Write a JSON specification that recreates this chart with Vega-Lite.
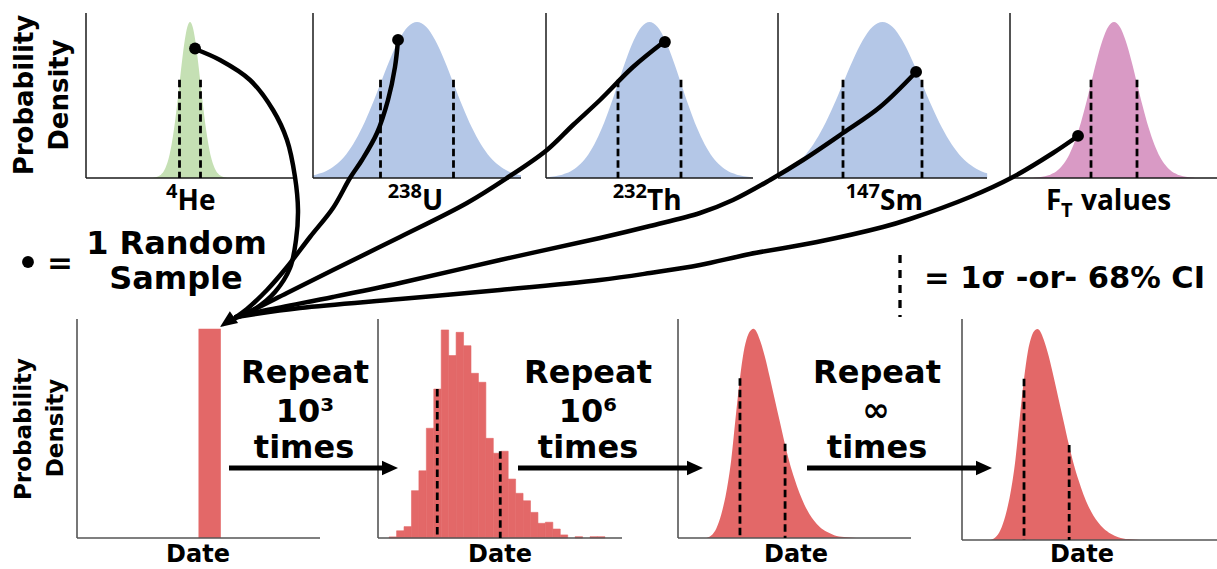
{
  "$schema": "https://vega.github.io/schema/vega-lite/v6.json",
  "width": 1217,
  "height": 569,
  "padding": 0,
  "autosize": "none",
  "background": "white",
  "config": {"view": {"stroke": null}, "axis": {"disable": true}},
  "datasets": {
    "normal": [
      {"v": -3.5, "d": 0.0022}, {"v": -3.25, "d": 0.0051}, {"v": -3, "d": 0.0111}, {"v": -2.85, "d": 0.0172},
      {"v": -2.75, "d": 0.0228}, {"v": -2.65, "d": 0.0299}, {"v": -2.5, "d": 0.0439}, {"v": -2.25, "d": 0.0796},
      {"v": -2, "d": 0.1353}, {"v": -1.75, "d": 0.2165}, {"v": -1.5, "d": 0.3247}, {"v": -1.25, "d": 0.4578},
      {"v": -1, "d": 0.6065}, {"v": -0.75, "d": 0.7548}, {"v": -0.5, "d": 0.8825}, {"v": -0.25, "d": 0.9692},
      {"v": 0, "d": 1},
      {"v": 0.25, "d": 0.9692}, {"v": 0.5, "d": 0.8825}, {"v": 0.75, "d": 0.7548}, {"v": 1, "d": 0.6065},
      {"v": 1.25, "d": 0.4578}, {"v": 1.5, "d": 0.3247}, {"v": 1.75, "d": 0.2165}, {"v": 2, "d": 0.1353},
      {"v": 2.25, "d": 0.0796}, {"v": 2.5, "d": 0.0439}, {"v": 2.65, "d": 0.0299}, {"v": 2.75, "d": 0.0228},
      {"v": 2.85, "d": 0.0172}, {"v": 3, "d": 0.0111}, {"v": 3.25, "d": 0.0051}, {"v": 3.5, "d": 0.0022}
    ],
    "sigma": [{"v": -1, "top": 0.63}, {"v": 1, "top": 0.63}],
    "dates": [
      {"date": 11.5, "density": 0}, {"date": 13.5, "density": 0.012}, {"date": 15.5, "density": 0.045},
      {"date": 17.5, "density": 0.11}, {"date": 19.5, "density": 0.21}, {"date": 21.5, "density": 0.36},
      {"date": 23.25, "density": 0.55}, {"date": 25, "density": 0.73}, {"date": 26.5, "density": 0.85},
      {"date": 28, "density": 0.92}, {"date": 29.5, "density": 0.95}, {"date": 30.5, "density": 0.955},
      {"date": 31.5, "density": 0.945}, {"date": 33, "density": 0.905}, {"date": 35, "density": 0.83},
      {"date": 37, "density": 0.735}, {"date": 39, "density": 0.635}, {"date": 41, "density": 0.535},
      {"date": 43, "density": 0.435}, {"date": 45, "density": 0.345}, {"date": 47, "density": 0.27},
      {"date": 49, "density": 0.205}, {"date": 51, "density": 0.152}, {"date": 53, "density": 0.11},
      {"date": 55, "density": 0.078}, {"date": 57, "density": 0.053}, {"date": 60, "density": 0.028},
      {"date": 63, "density": 0.013}, {"date": 67, "density": 0.004}, {"date": 72, "density": 0}
    ],
    "dateSigma": [{"date": 25, "top": 0.73}, {"date": 43.2, "top": 0.43}],
    "hist": [
      {"start": 4.5, "end": 7.5, "density": 0.005}, {"start": 7.5, "end": 10.5, "density": 0.033},
      {"start": 10.5, "end": 13.5, "density": 0.052}, {"start": 13.5, "end": 16.5, "density": 0.216},
      {"start": 16.5, "end": 19.5, "density": 0.307}, {"start": 19.5, "end": 22.5, "density": 0.501},
      {"start": 22.5, "end": 25.5, "density": 0.68}, {"start": 25.5, "end": 28.5, "density": 0.95},
      {"start": 28.5, "end": 31.5, "density": 0.833}, {"start": 31.5, "end": 34.5, "density": 0.939},
      {"start": 34.5, "end": 37.5, "density": 0.878}, {"start": 37.5, "end": 40.5, "density": 0.752},
      {"start": 40.5, "end": 43.5, "density": 0.711}, {"start": 43.5, "end": 46.5, "density": 0.455},
      {"start": 46.5, "end": 49.5, "density": 0.387}, {"start": 49.5, "end": 52.5, "density": 0.396},
      {"start": 52.5, "end": 55.5, "density": 0.269}, {"start": 55.5, "end": 58.5, "density": 0.204},
      {"start": 58.5, "end": 61.5, "density": 0.17}, {"start": 61.5, "end": 64.5, "density": 0.117},
      {"start": 64.5, "end": 67.5, "density": 0.067}, {"start": 67.5, "end": 70.5, "density": 0.072},
      {"start": 70.5, "end": 73.5, "density": 0.041}, {"start": 73.5, "end": 76.5, "density": 0.014},
      {"start": 79.5, "end": 82.5, "density": 0.006}, {"start": 85.5, "end": 88.5, "density": 0.006},
      {"start": 88.5, "end": 91.5, "density": 0.006}
    ],
    "arrows": [
      {"from": "He", "i": 0, "x": 195, "y": 49}, {"from": "He", "i": 1, "x": 220, "y": 60}, {"from": "He", "i": 2, "x": 250, "y": 80},
      {"from": "He", "i": 3, "x": 273, "y": 110}, {"from": "He", "i": 4, "x": 287, "y": 140}, {"from": "He", "i": 5, "x": 295, "y": 177},
      {"from": "He", "i": 6, "x": 298, "y": 210}, {"from": "He", "i": 7, "x": 296, "y": 240}, {"from": "He", "i": 8, "x": 290, "y": 268},
      {"from": "He", "i": 9, "x": 275, "y": 292}, {"from": "He", "i": 10, "x": 255, "y": 309}, {"from": "He", "i": 11, "x": 236, "y": 318},
      {"from": "U", "i": 0, "x": 398, "y": 40}, {"from": "U", "i": 1, "x": 395, "y": 67}, {"from": "U", "i": 2, "x": 388, "y": 100},
      {"from": "U", "i": 3, "x": 377, "y": 133}, {"from": "U", "i": 4, "x": 362, "y": 160}, {"from": "U", "i": 5, "x": 350, "y": 178},
      {"from": "U", "i": 6, "x": 333, "y": 208}, {"from": "U", "i": 7, "x": 310, "y": 237}, {"from": "U", "i": 8, "x": 287, "y": 267},
      {"from": "U", "i": 9, "x": 267, "y": 290}, {"from": "U", "i": 10, "x": 247, "y": 309}, {"from": "U", "i": 11, "x": 236, "y": 317},
      {"from": "Th", "i": 0, "x": 665, "y": 41}, {"from": "Th", "i": 1, "x": 633, "y": 67}, {"from": "Th", "i": 2, "x": 600, "y": 100},
      {"from": "Th", "i": 3, "x": 573, "y": 125}, {"from": "Th", "i": 4, "x": 547, "y": 150}, {"from": "Th", "i": 5, "x": 507, "y": 178},
      {"from": "Th", "i": 6, "x": 467, "y": 203}, {"from": "Th", "i": 7, "x": 400, "y": 237}, {"from": "Th", "i": 8, "x": 333, "y": 270},
      {"from": "Th", "i": 9, "x": 287, "y": 293}, {"from": "Th", "i": 10, "x": 253, "y": 310}, {"from": "Th", "i": 11, "x": 236, "y": 317},
      {"from": "Sm", "i": 0, "x": 916, "y": 72}, {"from": "Sm", "i": 1, "x": 880, "y": 107}, {"from": "Sm", "i": 2, "x": 843, "y": 133},
      {"from": "Sm", "i": 3, "x": 803, "y": 160}, {"from": "Sm", "i": 4, "x": 770, "y": 180}, {"from": "Sm", "i": 5, "x": 733, "y": 200},
      {"from": "Sm", "i": 6, "x": 700, "y": 213}, {"from": "Sm", "i": 7, "x": 650, "y": 226}, {"from": "Sm", "i": 8, "x": 600, "y": 238},
      {"from": "Sm", "i": 9, "x": 500, "y": 260}, {"from": "Sm", "i": 10, "x": 400, "y": 283}, {"from": "Sm", "i": 11, "x": 333, "y": 297},
      {"from": "Sm", "i": 12, "x": 267, "y": 310}, {"from": "Sm", "i": 13, "x": 236, "y": 317},
      {"from": "FT", "i": 0, "x": 1078, "y": 136}, {"from": "FT", "i": 1, "x": 1053, "y": 153}, {"from": "FT", "i": 2, "x": 1013, "y": 177},
      {"from": "FT", "i": 3, "x": 970, "y": 197}, {"from": "FT", "i": 4, "x": 910, "y": 219}, {"from": "FT", "i": 5, "x": 883, "y": 227},
      {"from": "FT", "i": 6, "x": 817, "y": 242}, {"from": "FT", "i": 7, "x": 750, "y": 254}, {"from": "FT", "i": 8, "x": 700, "y": 265},
      {"from": "FT", "i": 9, "x": 650, "y": 273}, {"from": "FT", "i": 10, "x": 600, "y": 280}, {"from": "FT", "i": 11, "x": 500, "y": 290},
      {"from": "FT", "i": 12, "x": 400, "y": 299}, {"from": "FT", "i": 13, "x": 300, "y": 308}, {"from": "FT", "i": 14, "x": 236, "y": 317}
    ],
    "steps": [
      {"x": 229, "x2": 385, "y": 468}, {"x": 518, "x2": 690, "y": 468}, {"x": 807, "x2": 980, "y": 468}
    ],
    "stepHeads": [{"x": 390, "y": 468}, {"x": 695, "y": 468}, {"x": 984, "y": 468}],
    "notes": [
      {"kind": "note", "text": "1 Random", "x": 176.5, "y": 254},
      {"kind": "note", "text": "Sample", "x": 176, "y": 289},
      {"kind": "note", "text": "Repeat", "x": 305, "y": 383},
      {"kind": "note", "text": "10³", "x": 305, "y": 421.5},
      {"kind": "note", "text": "times", "x": 304, "y": 458},
      {"kind": "note", "text": "Repeat", "x": 588, "y": 383},
      {"kind": "note", "text": "10⁶", "x": 588, "y": 421.5},
      {"kind": "note", "text": "times", "x": 588, "y": 458},
      {"kind": "note", "text": "Repeat", "x": 877, "y": 383},
      {"kind": "inf", "text": "∞", "x": 876, "y": 421},
      {"kind": "note", "text": "times", "x": 877, "y": 458},
      {"kind": "eq", "text": "=", "x": 47, "y": 273},
      {"kind": "ci", "text": "= 1σ -or- 68% CI", "x": 924, "y": 288},
      {"kind": "ylabTop", "text": "Probability", "x": 33, "y": 95},
      {"kind": "ylabTop", "text": "Density", "x": 68, "y": 95},
      {"kind": "ylabBottom", "text": "Probability", "x": 30.5, "y": 429},
      {"kind": "ylabBottom", "text": "Density", "x": 63, "y": 428},
      {"kind": "date", "text": "Date", "x": 198, "y": 562},
      {"kind": "date", "text": "Date", "x": 500, "y": 562},
      {"kind": "date", "text": "Date", "x": 796, "y": 562},
      {"kind": "date", "text": "Date", "x": 1082, "y": 562},
      {"kind": "iso", "text": "He", "x": 177.5, "y": 210},
      {"kind": "iso", "text": "U", "x": 422, "y": 210},
      {"kind": "iso", "text": "Th", "x": 647, "y": 210},
      {"kind": "iso", "text": "Sm", "x": 880, "y": 209.5},
      {"kind": "iso", "text": "F", "x": 1046, "y": 210},
      {"kind": "iso", "text": "values", "x": 1081, "y": 210},
      {"kind": "isoSup", "text": "4", "x": 177.5, "y": 198},
      {"kind": "isoSup", "text": "238", "x": 422, "y": 198},
      {"kind": "isoSup", "text": "232", "x": 647, "y": 198},
      {"kind": "isoSup", "text": "147", "x": 880, "y": 198},
      {"kind": "isoSub", "text": "T", "x": 1061, "y": 217}
    ]
  },
  "layer": [
    {
      "layer": [
        {"data": {"name": "normal"},
         "mark": {"type": "area", "color": "#c5e0b4", "interpolate": "monotone"},
         "encoding": {
           "x": {"field": "v", "type": "quantitative", "axis": null, "scale": {"domain": [-9.905, 9.905], "range": [86, 294], "nice": false, "zero": false}},
           "y": {"field": "d", "type": "quantitative", "axis": null, "scale": {"domain": [0, 1], "range": [178, 22], "nice": false, "zero": true}}}},
        {"data": {"values": [{"v": -9.905, "v2": 9.905, "d": 0, "d2": 0}, {"v": -9.905, "v2": -9.905, "d": 0, "d2": 1.058}]},
         "mark": {"type": "rule", "color": "#1a1a1a", "strokeWidth": 1.5},
         "encoding": {
           "x": {"field": "v", "type": "quantitative", "axis": null, "scale": {"domain": [-9.905, 9.905], "range": [86, 294], "nice": false, "zero": false}},
           "x2": {"field": "v2"},
           "y": {"field": "d", "type": "quantitative", "axis": null, "scale": {"domain": [0, 1], "range": [178, 22], "nice": false, "zero": true}},
           "y2": {"field": "d2"}}},
        {"data": {"name": "sigma"},
         "mark": {"type": "rule", "color": "black", "strokeWidth": 2.8, "strokeDash": [7.5, 4]},
         "encoding": {
           "x": {"field": "v", "type": "quantitative", "axis": null, "scale": {"domain": [-9.905, 9.905], "range": [86, 294], "nice": false, "zero": false}},
           "y": {"field": "top", "type": "quantitative", "axis": null, "scale": {"domain": [0, 1], "range": [178, 22], "nice": false, "zero": true}},
           "y2": {"datum": 0}}},
        {"data": {"values": [{"v": 0.48, "d": 0.83}]},
         "mark": {"type": "point", "filled": true, "color": "black", "opacity": 1, "size": 140},
         "encoding": {
           "x": {"field": "v", "type": "quantitative", "axis": null, "scale": {"domain": [-9.905, 9.905], "range": [86, 294], "nice": false, "zero": false}},
           "y": {"field": "d", "type": "quantitative", "axis": null, "scale": {"domain": [0, 1], "range": [178, 22], "nice": false, "zero": true}}}}
      ]
    },
    {
      "layer": [
        {"data": {"name": "normal"},
         "transform": [{"filter": "abs(datum.v) <= 2.86"}],
         "mark": {"type": "area", "color": "#b4c7e7", "interpolate": "monotone"},
         "encoding": {
           "x": {"field": "v", "type": "quantitative", "axis": null, "scale": {"domain": [-2.85, 2.85], "range": [313, 521], "nice": false, "zero": false}},
           "y": {"field": "d", "type": "quantitative", "axis": null, "scale": {"domain": [0, 1], "range": [178, 22], "nice": false, "zero": true}}}},
        {"data": {"values": [{"v": -2.85, "v2": 2.85, "d": 0, "d2": 0}, {"v": -2.85, "v2": -2.85, "d": 0, "d2": 1.058}]},
         "mark": {"type": "rule", "color": "#1a1a1a", "strokeWidth": 1.5},
         "encoding": {
           "x": {"field": "v", "type": "quantitative", "axis": null, "scale": {"domain": [-2.85, 2.85], "range": [313, 521], "nice": false, "zero": false}},
           "x2": {"field": "v2"},
           "y": {"field": "d", "type": "quantitative", "axis": null, "scale": {"domain": [0, 1], "range": [178, 22], "nice": false, "zero": true}},
           "y2": {"field": "d2"}}},
        {"data": {"name": "sigma"},
         "mark": {"type": "rule", "color": "black", "strokeWidth": 2.8, "strokeDash": [7.5, 4]},
         "encoding": {
           "x": {"field": "v", "type": "quantitative", "axis": null, "scale": {"domain": [-2.85, 2.85], "range": [313, 521], "nice": false, "zero": false}},
           "y": {"field": "top", "type": "quantitative", "axis": null, "scale": {"domain": [0, 1], "range": [178, 22], "nice": false, "zero": true}},
           "y2": {"datum": 0}}},
        {"data": {"values": [{"v": -0.52, "d": 0.885}]},
         "mark": {"type": "point", "filled": true, "color": "black", "opacity": 1, "size": 140},
         "encoding": {
           "x": {"field": "v", "type": "quantitative", "axis": null, "scale": {"domain": [-2.85, 2.85], "range": [313, 521], "nice": false, "zero": false}},
           "y": {"field": "d", "type": "quantitative", "axis": null, "scale": {"domain": [0, 1], "range": [178, 22], "nice": false, "zero": true}}}}
      ]
    },
    {
      "layer": [
        {"data": {"name": "normal"},
         "transform": [{"filter": "abs(datum.v) <= 3.3"}],
         "mark": {"type": "area", "color": "#b4c7e7", "interpolate": "monotone"},
         "encoding": {
           "x": {"field": "v", "type": "quantitative", "axis": null, "scale": {"domain": [-3.286, 3.286], "range": [546, 753], "nice": false, "zero": false}},
           "y": {"field": "d", "type": "quantitative", "axis": null, "scale": {"domain": [0, 1], "range": [178, 22], "nice": false, "zero": true}}}},
        {"data": {"values": [{"v": -3.286, "v2": 3.286, "d": 0, "d2": 0}, {"v": -3.286, "v2": -3.286, "d": 0, "d2": 1.058}]},
         "mark": {"type": "rule", "color": "#1a1a1a", "strokeWidth": 1.5},
         "encoding": {
           "x": {"field": "v", "type": "quantitative", "axis": null, "scale": {"domain": [-3.286, 3.286], "range": [546, 753], "nice": false, "zero": false}},
           "x2": {"field": "v2"},
           "y": {"field": "d", "type": "quantitative", "axis": null, "scale": {"domain": [0, 1], "range": [178, 22], "nice": false, "zero": true}},
           "y2": {"field": "d2"}}},
        {"data": {"name": "sigma"},
         "mark": {"type": "rule", "color": "black", "strokeWidth": 2.8, "strokeDash": [7.5, 4]},
         "encoding": {
           "x": {"field": "v", "type": "quantitative", "axis": null, "scale": {"domain": [-3.286, 3.286], "range": [546, 753], "nice": false, "zero": false}},
           "y": {"field": "top", "type": "quantitative", "axis": null, "scale": {"domain": [0, 1], "range": [178, 22], "nice": false, "zero": true}},
           "y2": {"datum": 0}}},
        {"data": {"values": [{"v": 0.49, "d": 0.872}]},
         "mark": {"type": "point", "filled": true, "color": "black", "opacity": 1, "size": 140},
         "encoding": {
           "x": {"field": "v", "type": "quantitative", "axis": null, "scale": {"domain": [-3.286, 3.286], "range": [546, 753], "nice": false, "zero": false}},
           "y": {"field": "d", "type": "quantitative", "axis": null, "scale": {"domain": [0, 1], "range": [178, 22], "nice": false, "zero": true}}}}
      ]
    },
    {
      "layer": [
        {"data": {"name": "normal"},
         "transform": [{"filter": "abs(datum.v) <= 2.66"}],
         "mark": {"type": "area", "color": "#b4c7e7", "interpolate": "monotone"},
         "encoding": {
           "x": {"field": "v", "type": "quantitative", "axis": null, "scale": {"domain": [-2.646, 2.646], "range": [778, 987], "nice": false, "zero": false}},
           "y": {"field": "d", "type": "quantitative", "axis": null, "scale": {"domain": [0, 1], "range": [178, 22], "nice": false, "zero": true}}}},
        {"data": {"values": [{"v": -2.646, "v2": 2.646, "d": 0, "d2": 0}, {"v": -2.646, "v2": -2.646, "d": 0, "d2": 1.058}]},
         "mark": {"type": "rule", "color": "#1a1a1a", "strokeWidth": 1.5},
         "encoding": {
           "x": {"field": "v", "type": "quantitative", "axis": null, "scale": {"domain": [-2.646, 2.646], "range": [778, 987], "nice": false, "zero": false}},
           "x2": {"field": "v2"},
           "y": {"field": "d", "type": "quantitative", "axis": null, "scale": {"domain": [0, 1], "range": [178, 22], "nice": false, "zero": true}},
           "y2": {"field": "d2"}}},
        {"data": {"name": "sigma"},
         "mark": {"type": "rule", "color": "black", "strokeWidth": 2.8, "strokeDash": [7.5, 4]},
         "encoding": {
           "x": {"field": "v", "type": "quantitative", "axis": null, "scale": {"domain": [-2.646, 2.646], "range": [778, 987], "nice": false, "zero": false}},
           "y": {"field": "top", "type": "quantitative", "axis": null, "scale": {"domain": [0, 1], "range": [178, 22], "nice": false, "zero": true}},
           "y2": {"datum": 0}}},
        {"data": {"values": [{"v": 0.85, "d": 0.68}]},
         "mark": {"type": "point", "filled": true, "color": "black", "opacity": 1, "size": 140},
         "encoding": {
           "x": {"field": "v", "type": "quantitative", "axis": null, "scale": {"domain": [-2.646, 2.646], "range": [778, 987], "nice": false, "zero": false}},
           "y": {"field": "d", "type": "quantitative", "axis": null, "scale": {"domain": [0, 1], "range": [178, 22], "nice": false, "zero": true}}}}
      ]
    },
    {
      "layer": [
        {"data": {"name": "normal"},
         "mark": {"type": "area", "color": "#d99ac5", "interpolate": "monotone"},
         "encoding": {
           "x": {"field": "v", "type": "quantitative", "axis": null, "scale": {"domain": [-4.522, 4.478], "range": [1010, 1217], "nice": false, "zero": false}},
           "y": {"field": "d", "type": "quantitative", "axis": null, "scale": {"domain": [0, 1], "range": [178, 22], "nice": false, "zero": true}}}},
        {"data": {"values": [{"v": -4.522, "v2": 4.478, "d": 0, "d2": 0}, {"v": -4.522, "v2": -4.522, "d": 0, "d2": 1.058}]},
         "mark": {"type": "rule", "color": "#1a1a1a", "strokeWidth": 1.5},
         "encoding": {
           "x": {"field": "v", "type": "quantitative", "axis": null, "scale": {"domain": [-4.522, 4.478], "range": [1010, 1217], "nice": false, "zero": false}},
           "x2": {"field": "v2"},
           "y": {"field": "d", "type": "quantitative", "axis": null, "scale": {"domain": [0, 1], "range": [178, 22], "nice": false, "zero": true}},
           "y2": {"field": "d2"}}},
        {"data": {"name": "sigma"},
         "mark": {"type": "rule", "color": "black", "strokeWidth": 2.8, "strokeDash": [7.5, 4]},
         "encoding": {
           "x": {"field": "v", "type": "quantitative", "axis": null, "scale": {"domain": [-4.522, 4.478], "range": [1010, 1217], "nice": false, "zero": false}},
           "y": {"field": "top", "type": "quantitative", "axis": null, "scale": {"domain": [0, 1], "range": [178, 22], "nice": false, "zero": true}},
           "y2": {"datum": 0}}},
        {"data": {"values": [{"v": -1.565, "d": 0.27}]},
         "mark": {"type": "point", "filled": true, "color": "black", "opacity": 1, "size": 140},
         "encoding": {
           "x": {"field": "v", "type": "quantitative", "axis": null, "scale": {"domain": [-4.522, 4.478], "range": [1010, 1217], "nice": false, "zero": false}},
           "y": {"field": "d", "type": "quantitative", "axis": null, "scale": {"domain": [0, 1], "range": [178, 22], "nice": false, "zero": true}}}}
      ]
    },
    {
      "layer": [
        {"data": {"values": [{"date": 49, "date2": 58, "density": 0.955}]},
         "mark": {"type": "rect", "color": "#e36868"},
         "encoding": {
           "x": {"field": "date", "type": "quantitative", "axis": null, "scale": {"domain": [0, 98], "range": [77, 320], "nice": false, "zero": false}},
           "x2": {"field": "date2"},
           "y": {"field": "density", "type": "quantitative", "axis": null, "scale": {"domain": [0, 1], "range": [538, 319], "nice": false, "zero": true}},
           "y2": {"datum": 0}}},
        {"data": {"values": [{"date": 0, "date2": 98, "d": 0, "d2": 0}, {"date": 0, "date2": 0, "d": 0, "d2": 1}]},
         "mark": {"type": "rule", "color": "#555555", "strokeWidth": 1.6},
         "encoding": {
           "x": {"field": "date", "type": "quantitative", "axis": null, "scale": {"domain": [0, 98], "range": [77, 320], "nice": false, "zero": false}},
           "x2": {"field": "date2"},
           "y": {"field": "d", "type": "quantitative", "axis": null, "scale": {"domain": [0, 1], "range": [538, 319], "nice": false, "zero": true}},
           "y2": {"field": "d2"}}}
      ]
    },
    {
      "layer": [
        {"data": {"name": "hist"},
         "mark": {"type": "rect", "color": "#e36868", "stroke": "#e36868", "strokeWidth": 0.6},
         "encoding": {
           "x": {"field": "start", "type": "quantitative", "axis": null, "scale": {"domain": [0, 98.4], "range": [378, 622], "nice": false, "zero": false}},
           "x2": {"field": "end"},
           "y": {"field": "density", "type": "quantitative", "axis": null, "scale": {"domain": [0, 1], "range": [538, 319], "nice": false, "zero": true}},
           "y2": {"datum": 0}}},
        {"data": {"values": [{"date": 0, "date2": 98.4, "d": 0, "d2": 0}, {"date": 0, "date2": 0, "d": 0, "d2": 1}]},
         "mark": {"type": "rule", "color": "#555555", "strokeWidth": 1.6},
         "encoding": {
           "x": {"field": "date", "type": "quantitative", "axis": null, "scale": {"domain": [0, 98.4], "range": [378, 622], "nice": false, "zero": false}},
           "x2": {"field": "date2"},
           "y": {"field": "d", "type": "quantitative", "axis": null, "scale": {"domain": [0, 1], "range": [538, 319], "nice": false, "zero": true}},
           "y2": {"field": "d2"}}},
        {"data": {"values": [{"date": 23.9, "top": 0.68}, {"date": 49.3, "top": 0.396}]},
         "mark": {"type": "rule", "color": "black", "strokeWidth": 2.8, "strokeDash": [7.5, 4]},
         "encoding": {
           "x": {"field": "date", "type": "quantitative", "axis": null, "scale": {"domain": [0, 98.4], "range": [378, 622], "nice": false, "zero": false}},
           "y": {"field": "top", "type": "quantitative", "axis": null, "scale": {"domain": [0, 1], "range": [538, 319], "nice": false, "zero": true}},
           "y2": {"datum": 0}}}
      ]
    },
    {
      "layer": [
        {"data": {"name": "dates"},
         "mark": {"type": "area", "color": "#e36868", "interpolate": "monotone"},
         "encoding": {
           "x": {"field": "date", "type": "quantitative", "axis": null, "scale": {"domain": [0, 94], "range": [678, 911], "nice": false, "zero": false}},
           "y": {"field": "density", "type": "quantitative", "axis": null, "scale": {"domain": [0, 1], "range": [538, 319], "nice": false, "zero": true}}}},
        {"data": {"values": [{"date": 0, "date2": 94, "d": 0, "d2": 0}, {"date": 0, "date2": 0, "d": 0, "d2": 1}]},
         "mark": {"type": "rule", "color": "#555555", "strokeWidth": 1.6},
         "encoding": {
           "x": {"field": "date", "type": "quantitative", "axis": null, "scale": {"domain": [0, 94], "range": [678, 911], "nice": false, "zero": false}},
           "x2": {"field": "date2"},
           "y": {"field": "d", "type": "quantitative", "axis": null, "scale": {"domain": [0, 1], "range": [538, 319], "nice": false, "zero": true}},
           "y2": {"field": "d2"}}},
        {"data": {"name": "dateSigma"},
         "mark": {"type": "rule", "color": "black", "strokeWidth": 2.8, "strokeDash": [7.5, 4]},
         "encoding": {
           "x": {"field": "date", "type": "quantitative", "axis": null, "scale": {"domain": [0, 94], "range": [678, 911], "nice": false, "zero": false}},
           "y": {"field": "top", "type": "quantitative", "axis": null, "scale": {"domain": [0, 1], "range": [538, 319], "nice": false, "zero": true}},
           "y2": {"datum": 0}}}
      ]
    },
    {
      "layer": [
        {"data": {"name": "dates"},
         "mark": {"type": "area", "color": "#e36868", "interpolate": "monotone"},
         "encoding": {
           "x": {"field": "date", "type": "quantitative", "axis": null, "scale": {"domain": [0, 102.8], "range": [962, 1217], "nice": false, "zero": false}},
           "y": {"field": "density", "type": "quantitative", "axis": null, "scale": {"domain": [0, 1], "range": [540, 319], "nice": false, "zero": true}}}},
        {"data": {"values": [{"date": 0, "date2": 102.8, "d": 0, "d2": 0}, {"date": 0, "date2": 0, "d": 0, "d2": 1}]},
         "mark": {"type": "rule", "color": "#555555", "strokeWidth": 1.6},
         "encoding": {
           "x": {"field": "date", "type": "quantitative", "axis": null, "scale": {"domain": [0, 102.8], "range": [962, 1217], "nice": false, "zero": false}},
           "x2": {"field": "date2"},
           "y": {"field": "d", "type": "quantitative", "axis": null, "scale": {"domain": [0, 1], "range": [540, 319], "nice": false, "zero": true}},
           "y2": {"field": "d2"}}},
        {"data": {"name": "dateSigma"},
         "mark": {"type": "rule", "color": "black", "strokeWidth": 2.8, "strokeDash": [7.5, 4]},
         "encoding": {
           "x": {"field": "date", "type": "quantitative", "axis": null, "scale": {"domain": [0, 102.8], "range": [962, 1217], "nice": false, "zero": false}},
           "y": {"field": "top", "type": "quantitative", "axis": null, "scale": {"domain": [0, 1], "range": [540, 319], "nice": false, "zero": true}},
           "y2": {"datum": 0}}}
      ]
    },
    {
      "layer": [
        {"data": {"name": "arrows"},
         "mark": {"type": "line", "color": "black", "strokeWidth": 4.5, "interpolate": "catmull-rom", "strokeCap": "round"},
         "encoding": {
           "x": {"field": "x", "type": "quantitative", "axis": null, "scale": {"domain": [0, 1217], "range": [0, 1217], "nice": false, "zero": false}},
           "y": {"field": "y", "type": "quantitative", "axis": null, "scale": {"domain": [0, 569], "range": [0, 569], "nice": false, "zero": false}},
           "detail": {"field": "from"},
           "order": {"field": "i", "type": "quantitative"}}},
        {"data": {"values": [{"x": 227, "y": 322}]},
         "mark": {"type": "point", "filled": true, "color": "black", "opacity": 1, "size": 289, "angle": 235, "shape": "M0,-1L0.85,1L-0.85,1Z"},
         "encoding": {
           "x": {"field": "x", "type": "quantitative", "axis": null, "scale": {"domain": [0, 1217], "range": [0, 1217], "nice": false, "zero": false}},
           "y": {"field": "y", "type": "quantitative", "axis": null, "scale": {"domain": [0, 569], "range": [0, 569], "nice": false, "zero": false}}}},
        {"data": {"name": "steps"},
         "mark": {"type": "rule", "color": "black", "strokeWidth": 5},
         "encoding": {
           "x": {"field": "x", "type": "quantitative", "axis": null, "scale": {"domain": [0, 1217], "range": [0, 1217], "nice": false, "zero": false}},
           "x2": {"field": "x2"},
           "y": {"field": "y", "type": "quantitative", "axis": null, "scale": {"domain": [0, 569], "range": [0, 569], "nice": false, "zero": false}}}},
        {"data": {"name": "stepHeads"},
         "mark": {"type": "point", "filled": true, "color": "black", "opacity": 1, "size": 256, "angle": 90, "shape": "M0,-1L0.9,1L-0.9,1Z"},
         "encoding": {
           "x": {"field": "x", "type": "quantitative", "axis": null, "scale": {"domain": [0, 1217], "range": [0, 1217], "nice": false, "zero": false}},
           "y": {"field": "y", "type": "quantitative", "axis": null, "scale": {"domain": [0, 569], "range": [0, 569], "nice": false, "zero": false}}}},
        {"data": {"values": [{"x": 28, "y": 262}]},
         "mark": {"type": "point", "filled": true, "color": "black", "opacity": 1, "size": 140},
         "encoding": {
           "x": {"field": "x", "type": "quantitative", "axis": null, "scale": {"domain": [0, 1217], "range": [0, 1217], "nice": false, "zero": false}},
           "y": {"field": "y", "type": "quantitative", "axis": null, "scale": {"domain": [0, 569], "range": [0, 569], "nice": false, "zero": false}}}},
        {"data": {"values": [{"x": 900, "y": 255, "y2": 317}]},
         "mark": {"type": "rule", "color": "black", "strokeWidth": 3.3, "strokeDash": [8, 7]},
         "encoding": {
           "x": {"field": "x", "type": "quantitative", "axis": null, "scale": {"domain": [0, 1217], "range": [0, 1217], "nice": false, "zero": false}},
           "y": {"field": "y", "type": "quantitative", "axis": null, "scale": {"domain": [0, 569], "range": [0, 569], "nice": false, "zero": false}},
           "y2": {"field": "y2"}}},
        {"data": {"name": "notes"},
         "transform": [{"filter": "datum.kind === 'note'"}],
         "mark": {"type": "text", "font": "DejaVu Sans", "fontWeight": "bold", "fontSize": 32, "align": "center", "baseline": "alphabetic", "color": "black"},
         "encoding": {
           "x": {"field": "x", "type": "quantitative", "axis": null, "scale": {"domain": [0, 1217], "range": [0, 1217], "nice": false, "zero": false}},
           "y": {"field": "y", "type": "quantitative", "axis": null, "scale": {"domain": [0, 569], "range": [0, 569], "nice": false, "zero": false}},
           "text": {"field": "text"}}},
        {"data": {"name": "notes"},
         "transform": [{"filter": "datum.kind === 'inf'"}],
         "mark": {"type": "text", "font": "DejaVu Sans", "fontWeight": "bold", "fontSize": 33, "align": "center", "baseline": "alphabetic", "color": "black"},
         "encoding": {
           "x": {"field": "x", "type": "quantitative", "axis": null, "scale": {"domain": [0, 1217], "range": [0, 1217], "nice": false, "zero": false}},
           "y": {"field": "y", "type": "quantitative", "axis": null, "scale": {"domain": [0, 569], "range": [0, 569], "nice": false, "zero": false}},
           "text": {"field": "text"}}},
        {"data": {"name": "notes"},
         "transform": [{"filter": "datum.kind === 'eq'"}],
         "mark": {"type": "text", "font": "DejaVu Sans", "fontWeight": "bold", "fontSize": 31, "align": "left", "baseline": "alphabetic", "color": "black"},
         "encoding": {
           "x": {"field": "x", "type": "quantitative", "axis": null, "scale": {"domain": [0, 1217], "range": [0, 1217], "nice": false, "zero": false}},
           "y": {"field": "y", "type": "quantitative", "axis": null, "scale": {"domain": [0, 569], "range": [0, 569], "nice": false, "zero": false}},
           "text": {"field": "text"}}},
        {"data": {"name": "notes"},
         "transform": [{"filter": "datum.kind === 'ci'"}],
         "mark": {"type": "text", "font": "DejaVu Sans", "fontWeight": "bold", "fontSize": 30.5, "align": "left", "baseline": "alphabetic", "color": "black"},
         "encoding": {
           "x": {"field": "x", "type": "quantitative", "axis": null, "scale": {"domain": [0, 1217], "range": [0, 1217], "nice": false, "zero": false}},
           "y": {"field": "y", "type": "quantitative", "axis": null, "scale": {"domain": [0, 569], "range": [0, 569], "nice": false, "zero": false}},
           "text": {"field": "text"}}},
        {"data": {"name": "notes"},
         "transform": [{"filter": "datum.kind === 'ylabTop'"}],
         "mark": {"type": "text", "font": "DejaVu Sans", "fontWeight": "bold", "fontSize": 26, "align": "center", "baseline": "alphabetic", "angle": 270, "color": "black"},
         "encoding": {
           "x": {"field": "x", "type": "quantitative", "axis": null, "scale": {"domain": [0, 1217], "range": [0, 1217], "nice": false, "zero": false}},
           "y": {"field": "y", "type": "quantitative", "axis": null, "scale": {"domain": [0, 569], "range": [0, 569], "nice": false, "zero": false}},
           "text": {"field": "text"}}},
        {"data": {"name": "notes"},
         "transform": [{"filter": "datum.kind === 'ylabBottom'"}],
         "mark": {"type": "text", "font": "DejaVu Sans", "fontWeight": "bold", "fontSize": 23, "align": "center", "baseline": "alphabetic", "angle": 270, "color": "black"},
         "encoding": {
           "x": {"field": "x", "type": "quantitative", "axis": null, "scale": {"domain": [0, 1217], "range": [0, 1217], "nice": false, "zero": false}},
           "y": {"field": "y", "type": "quantitative", "axis": null, "scale": {"domain": [0, 569], "range": [0, 569], "nice": false, "zero": false}},
           "text": {"field": "text"}}},
        {"data": {"name": "notes"},
         "transform": [{"filter": "datum.kind === 'date'"}],
         "mark": {"type": "text", "font": "DejaVu Sans", "fontWeight": "bold", "fontSize": 24, "align": "center", "baseline": "alphabetic", "color": "black"},
         "encoding": {
           "x": {"field": "x", "type": "quantitative", "axis": null, "scale": {"domain": [0, 1217], "range": [0, 1217], "nice": false, "zero": false}},
           "y": {"field": "y", "type": "quantitative", "axis": null, "scale": {"domain": [0, 569], "range": [0, 569], "nice": false, "zero": false}},
           "text": {"field": "text"}}},
        {"data": {"name": "notes"},
         "transform": [{"filter": "datum.kind === 'iso'"}],
         "mark": {"type": "text", "font": "Open Sans", "fontWeight": "bold", "fontSize": 28, "align": "left", "baseline": "alphabetic", "color": "black"},
         "encoding": {
           "x": {"field": "x", "type": "quantitative", "axis": null, "scale": {"domain": [0, 1217], "range": [0, 1217], "nice": false, "zero": false}},
           "y": {"field": "y", "type": "quantitative", "axis": null, "scale": {"domain": [0, 569], "range": [0, 569], "nice": false, "zero": false}},
           "text": {"field": "text"}}},
        {"data": {"name": "notes"},
         "transform": [{"filter": "datum.kind === 'isoSup'"}],
         "mark": {"type": "text", "font": "Open Sans", "fontWeight": "bold", "fontSize": 20, "align": "right", "baseline": "alphabetic", "color": "black"},
         "encoding": {
           "x": {"field": "x", "type": "quantitative", "axis": null, "scale": {"domain": [0, 1217], "range": [0, 1217], "nice": false, "zero": false}},
           "y": {"field": "y", "type": "quantitative", "axis": null, "scale": {"domain": [0, 569], "range": [0, 569], "nice": false, "zero": false}},
           "text": {"field": "text"}}},
        {"data": {"name": "notes"},
         "transform": [{"filter": "datum.kind === 'isoSub'"}],
         "mark": {"type": "text", "font": "Open Sans", "fontWeight": "bold", "fontSize": 20, "align": "left", "baseline": "alphabetic", "color": "black"},
         "encoding": {
           "x": {"field": "x", "type": "quantitative", "axis": null, "scale": {"domain": [0, 1217], "range": [0, 1217], "nice": false, "zero": false}},
           "y": {"field": "y", "type": "quantitative", "axis": null, "scale": {"domain": [0, 569], "range": [0, 569], "nice": false, "zero": false}},
           "text": {"field": "text"}}}
      ]
    }
  ],
  "resolve": {"scale": {"x": "independent", "y": "independent"}}
}
